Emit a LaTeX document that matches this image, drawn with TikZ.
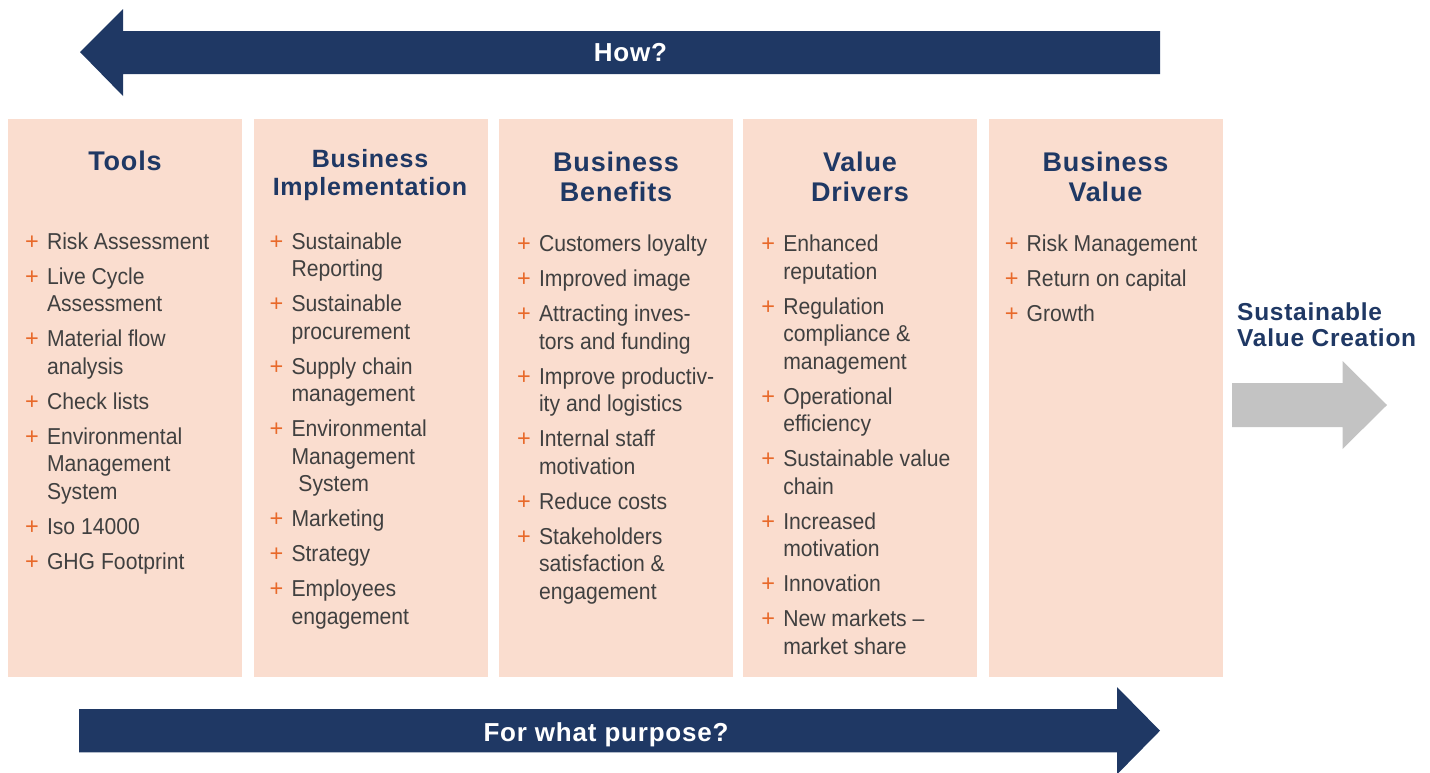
\documentclass[tikz,border=0pt]{standalone}
\usepackage{fontspec}
\setmainfont{Liberation Sans}
\newfontfamily\narrowfont{Liberation Sans}[FakeStretch=0.92]
\newfontfamily\spacedfont{Liberation Sans}[LetterSpace=3]
\usetikzlibrary{calc}
\definecolor{navy}{HTML}{1F3864}
\definecolor{peach}{HTML}{FADDCF}
\definecolor{plusorange}{HTML}{E8692A}
\definecolor{bodygray}{HTML}{404040}
\definecolor{arrowgray}{HTML}{C3C3C3}
\newcommand\stack[2]{\begin{tabular}[t]{@{}#1@{}}#2\end{tabular}}
\begin{document}
\begin{tikzpicture}[x=1pt,y=-1pt,
  colbox/.style={fill=peach, draw=none, minimum width=234pt, minimum height=557.7pt,
    anchor=north west, inner sep=0pt, outer sep=0pt},
  hdr/.style={text=navy, font=\spacedfont\bfseries\fontsize{27}{30.5}\selectfont, inner sep=0pt, anchor=base},
  itm/.style={text=bodygray, font=\narrowfont\fontsize{23}{27.5}\selectfont, inner sep=0pt,
    outer sep=0pt, anchor=north west},
  plus/.style={text=plusorange, font=\fontsize{23.5}{27.5}\selectfont, inner sep=0pt, anchor=base},
  banner/.style={text=white, font=\spacedfont\bfseries\fontsize{26}{30}\selectfont, inner sep=0pt, anchor=base}]
\useasboundingbox (0,0) rectangle (1430,772);

% ---- "How?" arrow pointing left
\fill[navy] (80,52) -- (123,9) -- (123,31) -- (1160,31) -- (1160,74) -- (123,74) -- (123,96) -- cycle;
\node[banner] (how) at (630.5,61.5) {How?};

% ---- columns
\node[colbox] (c1) at (8,119) {};
\node[colbox] (c2) at (254,119) {};
\node[colbox] (c3) at (499,119) {};
\node[colbox] (c4) at (743,119) {};
\node[colbox] (c5) at (989,119) {};

% ---- headers
\node[hdr] (h1) at (125,170) {Tools};
\node[hdr, font=\spacedfont\bfseries\fontsize{25}{27.7}\selectfont] (h2) at (370,167.3) {\stack{c}{Business\\Implementation}};
\node[hdr] (h3) at (616,171) {\stack{c}{Business\\Benefits}};
\node[hdr] (h4) at (860,171) {\stack{c}{Value\\Drivers}};
\node[hdr] (h5) at (1105.5,171) {\stack{c}{Business\\Value}};

% ---- column 1: tools
\node[itm, anchor=base west] (a1) at (47,249) {\stack{l}{Risk Assessment}};
\node[itm] (a2) at ([yshift=-7.5pt]a1.south west) {\stack{l}{Live Cycle\\Assessment}};
\node[itm] (a3) at ([yshift=-7.5pt]a2.south west) {\stack{l}{Material flow\\analysis}};
\node[itm] (a4) at ([yshift=-7.5pt]a3.south west) {\stack{l}{Check lists}};
\node[itm] (a5) at ([yshift=-7.5pt]a4.south west) {\stack{l}{Environmental\\Management\\System}};
\node[itm] (a6) at ([yshift=-7.5pt]a5.south west) {\stack{l}{Iso 14000}};
\node[itm] (a7) at ([yshift=-7.5pt]a6.south west) {\stack{l}{GHG Footprint}};
\foreach \n in {a1,a2,a3,a4,a5,a6,a7}
  \node[plus] (p\n) at ([xshift=-15pt]\n.base west) {+};

% ---- column 2: business implementation
\node[itm, anchor=base west] (b1) at (291.5,249) {\stack{l}{Sustainable\\Reporting}};
\node[itm] (b2) at ([yshift=-7.5pt]b1.south west) {\stack{l}{Sustainable\\procurement}};
\node[itm] (b3) at ([yshift=-7.5pt]b2.south west) {\stack{l}{Supply chain\\management}};
\node[itm] (b4) at ([yshift=-7.5pt]b3.south west) {\stack{l}{Environmental\\Management\\\hspace{0.3em}System}};
\node[itm] (b5) at ([yshift=-7.5pt]b4.south west) {\stack{l}{Marketing}};
\node[itm] (b6) at ([yshift=-7.5pt]b5.south west) {\stack{l}{Strategy}};
\node[itm] (b7) at ([yshift=-7.5pt]b6.south west) {\stack{l}{Employees\\engagement}};
\foreach \n in {b1,b2,b3,b4,b5,b6,b7}
  \node[plus] (p\n) at ([xshift=-15pt]\n.base west) {+};

% ---- column 3: business benefits
\node[itm, anchor=base west] (d1) at (539,251.7) {\stack{l}{Customers loyalty}};
\node[itm] (d2) at ([yshift=-7.5pt]d1.south west) {\stack{l}{Improved image}};
\node[itm] (d3) at ([yshift=-7.5pt]d2.south west) {\stack{l}{Attracting inves-\\tors and funding}};
\node[itm] (d4) at ([yshift=-7.5pt]d3.south west) {\stack{l}{Improve productiv-\\ity and logistics}};
\node[itm] (d5) at ([yshift=-7.5pt]d4.south west) {\stack{l}{Internal staff\\motivation}};
\node[itm] (d6) at ([yshift=-7.5pt]d5.south west) {\stack{l}{Reduce costs}};
\node[itm] (d7) at ([yshift=-7.5pt]d6.south west) {\stack{l}{Stakeholders\\satisfaction \&\\engagement}};
\foreach \n in {d1,d2,d3,d4,d5,d6,d7}
  \node[plus] (p\n) at ([xshift=-15pt]\n.base west) {+};

% ---- column 4: value drivers
\node[itm, anchor=base west] (e1) at (783.3,251.7) {\stack{l}{Enhanced\\reputation}};
\node[itm] (e2) at ([yshift=-7.5pt]e1.south west) {\stack{l}{Regulation\\compliance \&\\management}};
\node[itm] (e3) at ([yshift=-7.5pt]e2.south west) {\stack{l}{Operational\\efficiency}};
\node[itm] (e4) at ([yshift=-7.5pt]e3.south west) {\stack{l}{Sustainable value\\chain}};
\node[itm] (e5) at ([yshift=-7.5pt]e4.south west) {\stack{l}{Increased\\motivation}};
\node[itm] (e6) at ([yshift=-7.5pt]e5.south west) {\stack{l}{Innovation}};
\node[itm] (e7) at ([yshift=-7.5pt]e6.south west) {\stack{l}{New markets –\\market share}};
\foreach \n in {e1,e2,e3,e4,e5,e6,e7}
  \node[plus] (p\n) at ([xshift=-15pt]\n.base west) {+};

% ---- column 5: business value
\node[itm, anchor=base west] (f1) at (1026.7,251.7) {\stack{l}{Risk Management}};
\node[itm] (f2) at ([yshift=-7.5pt]f1.south west) {\stack{l}{Return on capital}};
\node[itm] (f3) at ([yshift=-7.5pt]f2.south west) {\stack{l}{Growth}};
\foreach \n in {f1,f2,f3}
  \node[plus] (p\n) at ([xshift=-15pt]\n.base west) {+};

% ---- outcome label and grey arrow
\node[anchor=base west, text=navy, font=\spacedfont\bfseries\fontsize{24.5}{26}\selectfont, inner sep=0pt]
  (svc) at (1237,320.7) {\stack{l}{Sustainable\\Value Creation}};
\fill[arrowgray] (1232,383) -- (1342.5,383) -- (1342.5,361) -- (1387,405) -- (1342.5,449)
  -- (1342.5,427) -- (1232,427) -- cycle;

% ---- "For what purpose?" arrow pointing right
\fill[navy] (79,709) -- (1117,709) -- (1117,687) -- (1160,730.7) -- (1117,774.4)
  -- (1117,752.3) -- (79,752.3) -- cycle;
\node[banner] (purpose) at (606,741) {For what purpose?};
\end{tikzpicture}
\end{document}
